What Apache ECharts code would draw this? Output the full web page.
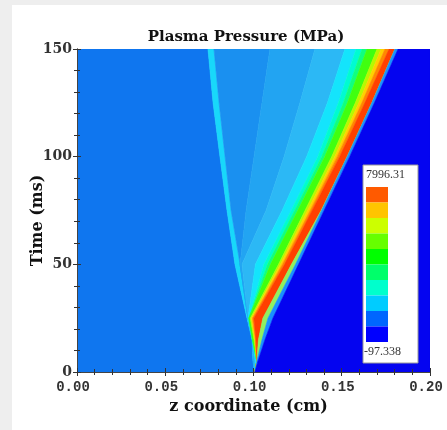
<!DOCTYPE html>
<html>
<head>
<meta charset="utf-8">
<script src="https://cdn.jsdelivr.net/npm/echarts@6/dist/echarts.min.js"></script>
<style>
  html, body { margin: 0; padding: 0; background: #eeeeee; }
  #chart { position: absolute; left: 12px; top: 5px; width: 435px; height: 425px; background: #ffffff; }
</style>
</head>
<body>
<div id="chart"></div>
<script>
  var times = [0, 5, 15, 25, 50, 75, 100, 125, 150];

  // boundary x positions (cm) for every row above, left to right
  var plotLeft        = [0, 0, 0, 0, 0, 0, 0, 0, 0];
  var wedgeLeft       = [0.1006, 0.0997, 0.0992, 0.0963, 0.0895, 0.0850, 0.0810, 0.0771, 0.0742];
  var edgeCyanRight   = [0.1006, 0.1003, 0.0994, 0.0969, 0.0924, 0.0873, 0.0839, 0.0805, 0.0776];
  var darkInnerRight  = [0.1006, 0.1003, 0.0994, 0.0969, 0.0924, 0.0958, 0.1003, 0.1048, 0.1093];
  var midInnerRight   = [0.1006, 0.1003, 0.0994, 0.0969, 0.0935, 0.1071, 0.1173, 0.1263, 0.1348];
  var lightInnerRight = [0.1006, 0.1011, 0.0994, 0.0969, 0.1011, 0.1162, 0.1301, 0.1419, 0.1518];
  var cyanRight       = [0.1008, 0.1019, 0.0994, 0.0974, 0.1059, 0.1213, 0.1364, 0.1481, 0.1581];
  var aquaRight       = [0.1008, 0.1019, 0.0994, 0.0974, 0.1079, 0.1233, 0.1386, 0.1509, 0.1615];
  var springRight     = [0.1008, 0.1019, 0.0994, 0.0974, 0.1096, 0.1250, 0.1403, 0.1532, 0.1643];
  var greenRight      = [0.1008, 0.1019, 0.1003, 0.0982, 0.1142, 0.1292, 0.1443, 0.1577, 0.1700];
  var limeRight       = [0.1008, 0.1019, 0.1008, 0.0988, 0.1153, 0.1306, 0.1460, 0.1597, 0.1723];
  var yellowRight     = [0.1008, 0.1019, 0.1011, 0.0994, 0.1164, 0.1321, 0.1474, 0.1614, 0.1745];
  var orangeRight     = [0.1008, 0.1019, 0.1014, 0.1002, 0.1176, 0.1332, 0.1488, 0.1631, 0.1768];
  var redRight        = [0.1008, 0.1019, 0.1028, 0.1053, 0.1215, 0.1383, 0.1531, 0.1671, 0.1802];
  var shoulderRight   = [0.1008, 0.1019, 0.1048, 0.1082, 0.1238, 0.1386, 0.1531, 0.1671, 0.1802];
  var frontEdge       = [0.1008, 0.1025, 0.1065, 0.1110, 0.1255, 0.1400, 0.1545, 0.1685, 0.1819];
  var plotRight       = [0.2, 0.2, 0.2, 0.2, 0.2, 0.2, 0.2, 0.2, 0.2];

  var bandEdges = [plotLeft, wedgeLeft, edgeCyanRight, darkInnerRight, midInnerRight,
    lightInnerRight, cyanRight, aquaRight, springRight, greenRight, limeRight,
    yellowRight, orangeRight, redRight, shoulderRight, frontEdge, plotRight];

  // fill of the band between bandEdges[i] and bandEdges[i + 1]
  var bandColors = ['#0f76ef', '#18d8fa', '#1a90f0', '#22a4f2', '#2cb8f5', '#14e4fc',
    '#00fbd2', '#10ff80', '#40ff10', '#b8f800', '#ffd000', '#ff8800', '#ff4000',
    '#90f060', '#1890ff', '#0404f0'];

  // colour key, top to bottom
  var legendColors = ['#ff5a00', '#ffc400', '#ccff00', '#66ff00', '#00ff00',
    '#00ff6a', '#00ffcc', '#00ccff', '#0066ff', '#0000ff'];
  var legendMax = '7996.31';
  var legendMin = '-97.338';

  var chart = echarts.init(document.getElementById('chart'));

  var serif = 'DejaVu Serif';
  var axisLineStyle = { lineStyle: { color: '#444', width: 1 } };
  var inTick = { inside: true, length: 4, lineStyle: { color: '#333' } };
  var inMinor = { show: true, splitNumber: 5, length: 3, lineStyle: { color: '#333' } };

  chart.setOption({
    animation: false,
    title: {
      text: 'Plasma Pressure (MPa)',
      left: 229,
      top: 20,
      textAlign: 'center',
      textStyle: { fontFamily: serif, fontWeight: 'bold', fontSize: 15, color: '#111' }
    },
    grid: { left: 65, right: 17, top: 44, bottom: 58, outerBoundsMode: 'none', containLabel: false },
    xAxis: [{
      type: 'value', min: 0, max: 0.2, interval: 0.05, z: 5,
      name: 'z coordinate (cm)', nameLocation: 'middle', nameGap: 27, nameMoveOverlap: false,
      nameTextStyle: { fontFamily: serif, fontWeight: 'bold', fontSize: 16, color: '#111', padding: [0, 10, 0, 0] },
      axisLine: axisLineStyle, axisTick: inTick, minorTick: inMinor,
      splitLine: { show: false },
      axisLabel: {
        margin: 8, fontFamily: 'Liberation Mono', fontWeight: 'bold', fontSize: 14, color: '#333',
        padding: [0, 8, 0, 0],
        formatter: function (v) { return v.toFixed(2); }
      }
    }, {
      type: 'value', position: 'top', min: 0, max: 0.2, interval: 0.05, z: 5,
      axisLine: axisLineStyle, axisTick: inTick, minorTick: inMinor,
      splitLine: { show: false }, axisLabel: { show: false }
    }],
    yAxis: [{
      type: 'value', min: 0, max: 150, interval: 50, z: 5,
      name: 'Time (ms)', nameLocation: 'middle', nameGap: 31, nameMoveOverlap: false,
      nameTextStyle: { fontFamily: serif, fontWeight: 'bold', fontSize: 16, color: '#111', padding: [0, 20, 0, 0] },
      axisLine: axisLineStyle, axisTick: inTick, minorTick: inMinor,
      splitLine: { show: false },
      axisLabel: { margin: 5, fontFamily: serif, fontWeight: 'bold', fontSize: 14, color: '#333' }
    }, {
      type: 'value', position: 'right', min: 0, max: 150, interval: 50, z: 5,
      axisLine: axisLineStyle, axisTick: inTick, minorTick: inMinor,
      splitLine: { show: false }, axisLabel: { show: false }
    }],
    visualMap: {
      type: 'piecewise',
      seriesIndex: [],
      left: 354, top: 182,
      padding: 0,
      itemWidth: 22, itemHeight: 15.5, itemGap: 0,
      itemSymbol: 'rect',
      showLabel: false,
      selectedMode: false, hoverLink: false,
      z: 20,
      pieces: legendColors.slice().reverse().map(function (c, i) { return { value: i, color: c }; })
    },
    graphic: [{
      type: 'rect', z: 10,
      shape: { x: 351, y: 160, width: 55, height: 198 },
      style: { fill: '#ffffff', stroke: '#999', lineWidth: 1 }
    }, {
      type: 'text', z: 11, x: 354, y: 170,
      style: { text: legendMax, fontFamily: 'Liberation Serif', fontSize: 12, fill: '#333', verticalAlign: 'middle' }
    }, {
      type: 'text', z: 11, x: 352, y: 347,
      style: { text: legendMin, fontFamily: 'Liberation Serif', fontSize: 12, fill: '#333', verticalAlign: 'middle' }
    }],
    series: [{
      type: 'custom',
      clip: true,
      data: bandColors.map(function (c, i) { return [i]; }),
      renderItem: function (params, api) {
        var i = api.value(0);
        var left = bandEdges[i], right = bandEdges[i + 1];
        var pts = [];
        for (var k = 0; k < times.length; k++) {
          pts.push(api.coord([left[k], times[k]]));
        }
        for (var j = times.length - 1; j >= 0; j--) {
          pts.push(api.coord([right[j], times[j]]));
        }
        return {
          type: 'polygon',
          shape: { points: pts },
          style: { fill: bandColors[i], stroke: bandColors[i], lineWidth: 0.6 }
        };
      }
    }]
  });
</script>
</body>
</html>
